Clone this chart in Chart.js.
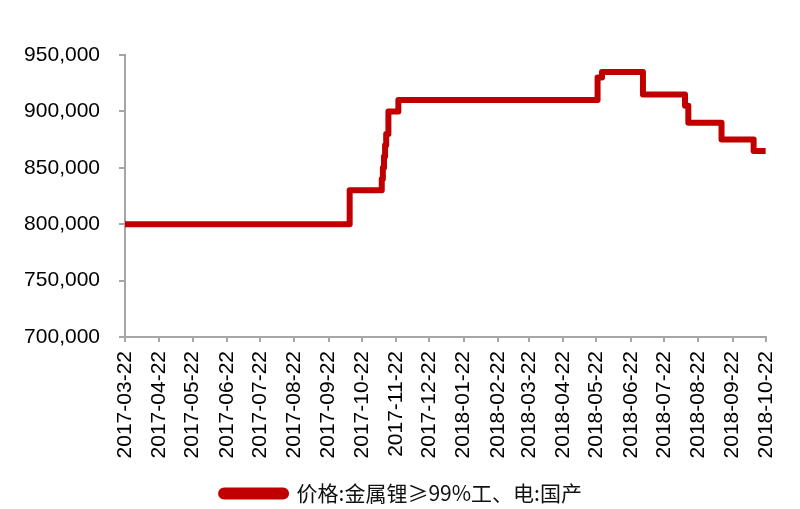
<!DOCTYPE html>
<html>
<head>
<meta charset="utf-8">
<script src="https://cdn.jsdelivr.net/npm/chart.js@4/dist/chart.umd.min.js"></script>
<style>
  html, body { margin: 0; padding: 0; background: #fff; }
  #wrap { width: 800px; height: 509px; }
</style>
</head>
<body>
<div id="wrap"><canvas id="c" width="800" height="509"></canvas></div>
<script>
// ---- data ----
const seriesName = '价格:金属锂≥99%工、电:国产';
const changeDates = ['2017-03-22','2017-10-11','2017-11-09','2017-11-10','2017-11-11','2017-11-12','2017-11-13','2017-11-15','2017-11-24','2018-05-23','2018-05-27','2018-07-03','2018-08-10','2018-08-13','2018-09-12','2018-10-11','2018-10-22'];
const prices      = [800000, 830000, 840000, 850000, 860000, 870000, 880000, 900000, 910000, 930000, 935000, 915000, 905000, 890000, 875000, 865000, 865000];
const tickLabels  = ['2017-03-22','2017-04-22','2017-05-22','2017-06-22','2017-07-22','2017-08-22','2017-09-22','2017-10-22','2017-11-22','2017-12-22','2018-01-22','2018-02-22','2018-03-22','2018-04-22','2018-05-22','2018-06-22','2018-07-22','2018-08-22','2018-09-22','2018-10-22'];
const yMin = 700000, yMax = 950000, yStep = 50000;

// day offset helper
const t0 = Date.parse(tickLabels[0] + 'T00:00:00Z');
const dayOf = s => Math.round((Date.parse(s + 'T00:00:00Z') - t0) / 86400000);
const tickDays = tickLabels.map(dayOf);
const labelByDay = {};
tickLabels.forEach((l, i) => { labelByDay[tickDays[i]] = l; });

const points = changeDates.map((d, i) => ({ x: dayOf(d), y: prices[i] }));

const RED = '#C00000';
const AXIS = '#A6A6A6';

const shiftLegend = {
  id: 'shiftLegend',
  afterLayout(chart) {
    const lg = chart.legend;
    if (lg) { lg.left += 17; lg.right += 17; }
  }
};

new Chart(document.getElementById('c'), {
  type: 'line',
  data: {
    datasets: [{
      label: seriesName,
      data: points,
      stepped: 'before',
      borderColor: RED,
      backgroundColor: RED,
      borderWidth: 6,
      borderJoinStyle: 'round',
      pointRadius: 0,
      fill: false
    }]
  },
  options: {
    responsive: false,
    animation: false,
    layout: { padding: { top: 55, left: 0, right: 31, bottom: -5 } },
    scales: {
      x: {
        type: 'linear',
        min: tickDays[0],
        max: tickDays[tickDays.length - 1],
        afterBuildTicks: s => { s.ticks = tickDays.map(v => ({ value: v })); },
        afterFit: s => { s.height = 142; },
        border: { display: true, color: AXIS, width: 2 },
        grid: { display: true, drawOnChartArea: false, drawTicks: true, tickLength: 5, color: AXIS, lineWidth: 2 },
        ticks: {
          autoSkip: false,
          minRotation: 90,
          maxRotation: 90,
          padding: 9,
          color: '#000',
          font: { family: '"Liberation Sans", Arial, sans-serif', size: 21 },
          callback: v => labelByDay[v] || ''
        }
      },
      y: {
        min: yMin,
        max: yMax,
        afterFit: s => { s.width = 125; },
        border: { display: true, color: AXIS, width: 2 },
        grid: { display: true, drawOnChartArea: false, drawTicks: true, tickLength: 6, color: AXIS, lineWidth: 2 },
        ticks: {
          stepSize: yStep,
          padding: 19,
          color: '#000',
          font: { family: '"Liberation Sans", Arial, sans-serif', size: 21 },
          callback: v => v.toLocaleString('en-US')
        }
      }
    },
    plugins: {
      legend: {
        position: 'bottom',
        labels: {
          boxWidth: 65,
          boxHeight: 6,
          useBorderRadius: true,
          borderRadius: 3,
          padding: 4,
          color: '#111',
          font: { family: '"Noto Sans CJK SC", sans-serif', size: 21 }
        }
      },
      tooltip: { enabled: false }
    }
  },
  plugins: [shiftLegend]
});
</script>
</body>
</html>
